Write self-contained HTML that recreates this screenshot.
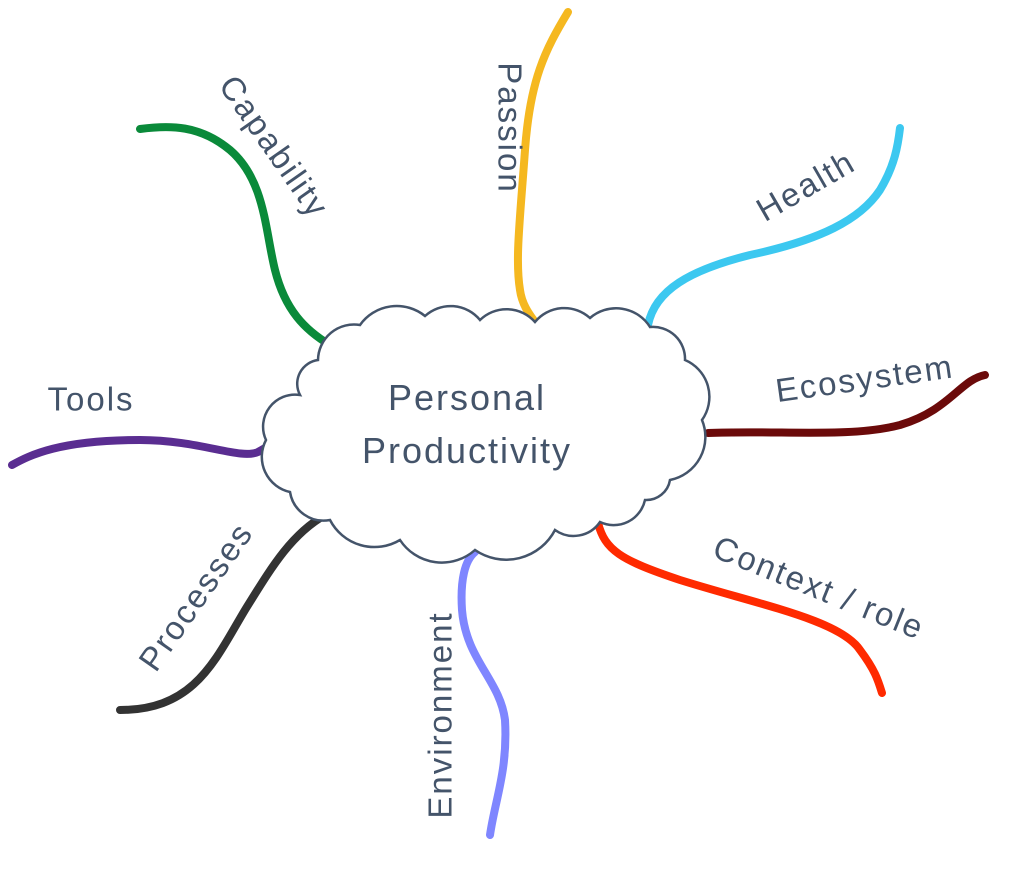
<!DOCTYPE html>
<html><head><meta charset="utf-8"><style>
html,body{margin:0;padding:0;background:#fff;width:1024px;height:872px;overflow:hidden}
svg text{font-family:"Liberation Sans",sans-serif;fill:#44546A;font-size:33px;letter-spacing:2px}
</style></head><body>
<svg width="1024" height="872" viewBox="0 0 1024 872" xmlns="http://www.w3.org/2000/svg">
<g fill="none" stroke-linecap="round" stroke-width="8">
<path d="M140,129 C170,125 200,125 230,150 C265,180 265,230 275,270 C285,310 305,330 330,345" stroke="#0a8a3a"/>
<path d="M568,12 C545,50 530,80 525,150 C520,220 515,260 520,290 C522,305 530,315 535,322" stroke="#f5b820"/>
<path d="M648,325 C655,290 690,270 750,255 C820,240 860,220 880,190 C895,165 898,145 900,128" stroke="#3cc8f0"/>
<path d="M708,433 C780,430 850,438 900,425 C950,410 960,380 985,375" stroke="#6b0a0a"/>
<path d="M598,523 C605,550 620,560 680,580 C760,605 840,620 860,650 C875,670 878,680 882,693" stroke="#ff2a00"/>
<path d="M475,552 C465,560 460,580 462,610 C466,660 500,680 505,720 C508,770 495,800 490,835" stroke="#7f86ff"/>
<path d="M325,515 C290,535 270,570 245,610 C215,660 195,710 120,710" stroke="#333"/>
<path d="M12,465 C30,455 60,440 140,440 C200,440 240,460 258,452 C265,448 270,445 275,442" stroke="#5a2d91"/>
</g>
<path d="M318,360 A36,36 0 0 1 360,325 A45,45 0 0 1 425,316 A38,38 0 0 1 480,320 A38,38 0 0 1 535,322 A38,38 0 0 1 590,318 A40,40 0 0 1 650,327 A32,32 0 0 1 685,360 A40,40 0 0 1 702,420 A44,44 0 0 1 670,480 A24,24 0 0 1 645,500 A32,32 0 0 1 600,522 A32,32 0 0 1 555,530 A55,55 0 0 1 475,550 A50,50 0 0 1 400,540 A50,50 0 0 1 330,520 A34,34 0 0 1 290,492 A36,36 0 0 1 266,440 A32,32 0 0 1 300,395 A24,24 0 0 1 318,360 Z" fill="#fff" stroke="#44546A" stroke-width="2.5"/>
<text x="467" y="410" text-anchor="middle" style="font-size:36px">Personal</text>
<text x="467" y="463" text-anchor="middle" style="font-size:36px">Productivity</text>
<text text-anchor="middle" dominant-baseline="middle" transform="translate(272,148) rotate(55)">Capability</text>
<text text-anchor="middle" dominant-baseline="middle" transform="translate(507,128) rotate(90)">Passion</text>
<text text-anchor="middle" dominant-baseline="middle" transform="translate(807,188) rotate(-30)">Health</text>
<text text-anchor="middle" dominant-baseline="middle" transform="translate(865,381) rotate(-8)">Ecosystem</text>
<text text-anchor="middle" dominant-baseline="middle" transform="translate(818,590) rotate(22)">Context / role</text>
<text text-anchor="middle" dominant-baseline="middle" transform="translate(443,715) rotate(-90)">Environment</text>
<text text-anchor="middle" dominant-baseline="middle" transform="translate(198,598) rotate(-55)">Processes</text>
<text text-anchor="middle" dominant-baseline="middle" transform="translate(91,402)">Tools</text>
</svg>
</body></html>
